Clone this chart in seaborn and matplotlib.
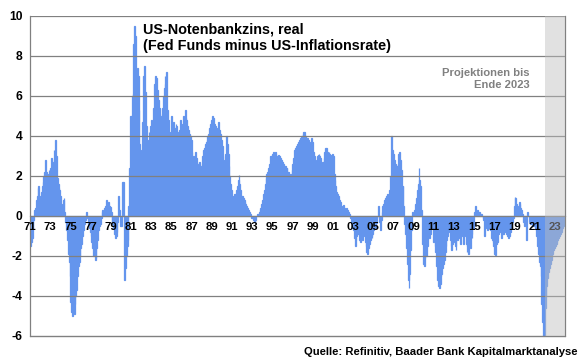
import matplotlib
matplotlib.use("Agg")
import matplotlib.pyplot as plt
import numpy as np
import pandas as pd
import seaborn as sns

# Monthly real Fed Funds rate (Fed Funds minus US inflation), %, Jan 1971 .. Dec 2021
real_1971_1980 = [
    -1.5, -1.3, -1.1, -0.6, -0.2, 0.3, 0.4, 0.8, 1.0, 1.4, 1.5, 0.9,
    1.0, 1.2, 1.5, 1.7, 2.0, 2.2, 2.8, 2.2, 1.9, 2.1, 2.3, 2.0,
    2.4, 2.9, 2.3, 2.7, 3.3, 2.8, 3.8, 3.0, 1.9, 1.6, 1.4, 1.3,
    1.0, 0.6, 0.3, 0.8, 0.9, 0.2, -0.3, -0.7, -1.2, -1.9, -2.3, -3.0,
    -4.3, -4.8, -5.0, -4.6, -4.9, -4.4, -4.0, -3.7, -3.0, -2.5, -2.3, -2.0,
    -1.6, -1.4, -1.0, -0.7, -0.4, -0.2, 0.0, 0.2, -0.1, -0.4, -0.6, -0.8,
    -1.0, -1.3, -1.6, -2.0, -1.9, -2.2, -2.1, -1.6, -1.2, -0.7, -0.5, -0.4,
    -0.1, 0.2, 0.3, 0.1, 0.4, 0.5, 0.8, 0.6, 0.3, 0.7, 0.5, 0.45,
    0.2, -0.3, -0.4, -0.6, -0.9, -1.1, -1.0, -0.8, -0.3, 1.0, 0.3, -0.5,
    -0.5, 1.7, 0.6, 1.7, -3.2, -2.6, -2.0, -1.5, -1.2, 0.5, 2.4, 5.0,
]
real_1981_1990 = [
    5.0, 6.0, 6.1, 8.6, 9.5, 9.0, 7.2, 7.4, 7.0, 5.3, 3.6, 3.1,
    3.3, 4.7, 7.0, 6.0, 7.5, 6.2, 4.5, 3.8, 3.6, 4.2, 3.8, 4.5,
    4.8, 4.5, 5.4, 5.0, 6.6, 7.0, 6.9, 6.3, 5.8, 5.4, 5.1, 4.8,
    5.0, 5.4, 6.0, 6.4, 7.0, 6.6, 7.2, 5.3, 4.8, 4.0, 3.6, 4.2,
    5.0, 4.3, 4.7, 4.4, 4.0, 4.6, 4.5, 4.2, 4.0, 4.3, 4.8, 4.6,
    4.0, 4.6, 5.0, 4.8, 5.3, 4.9, 4.8, 4.5, 4.3, 4.1, 4.0, 3.8,
    3.2, 3.0, 2.8, 3.0, 3.2, 2.9, 2.7, 2.6, 2.5, 2.7, 2.5, 2.4,
    2.6, 3.0, 3.3, 3.4, 3.6, 3.7, 3.8, 4.0, 4.1, 4.4, 4.6, 4.8,
    5.0, 4.8, 4.9, 4.6, 4.5, 4.4, 4.3, 4.1, 4.7, 4.3, 4.1, 3.8,
    3.5, 3.0, 2.8, 2.7, 3.1, 4.0, 3.6, 3.1, 2.5, 2.0, 1.6, 1.3,
]
real_1991_2000 = [
    1.0, 0.9, 1.0, 1.1, 1.1, 1.3, 1.5, 1.8, 2.05, 1.6, 1.3, 1.0,
    1.0, 0.9, 0.8, 0.7, 0.6, 0.5, 0.4, 0.3, 0.2, 0.0, 0.1, -0.1,
    -0.1, -0.2, -0.3, -0.3, -0.2, 0.0, 0.1, 0.1, 0.2, 0.3, 0.4, 0.6,
    0.8, 1.1, 1.3, 1.6, 1.9, 2.1, 2.2, 2.4, 2.6, 3.0, 2.9, 3.0,
    3.1, 3.2, 3.1, 3.2, 3.1, 3.0, 2.9, 3.05, 3.0, 2.9, 2.8, 2.7,
    2.7, 2.6, 2.5, 2.5, 2.4, 2.4, 2.2, 2.2, 2.1, 2.0, 2.1, 2.3,
    2.6, 2.9, 3.3, 3.4, 3.5, 3.6, 3.6, 3.7, 3.8, 3.9, 4.0, 4.0,
    4.1, 4.2, 4.2, 4.0, 3.9, 3.9, 3.8, 3.8, 3.7, 3.6, 3.9, 3.7,
    3.1, 3.2, 3.0, 2.5, 2.8, 3.0, 3.05, 3.1, 3.0, 2.9, 2.6, 2.7,
    2.7, 2.9, 3.2, 3.4, 3.4, 3.2, 3.0, 3.2, 3.1, 3.0, 3.05, 3.1,
]
real_2001_2010 = [
    3.0, 2.1, 1.8, 1.5, 1.2, 1.1, 1.0, 0.8, 0.6, 0.7, 0.5, 0.3,
    0.55, 0.4, 0.3, 0.2, 0.4, 0.3, 0.2, 0.1, 0.0, -0.1, -0.35, -0.6,
    -0.7, -1.1, -1.5, -1.2, -1.0, -0.9, -0.9, -1.2, -1.3, -1.0, -1.0, -1.2,
    -0.9, -1.0, -1.3, -1.5, -1.8, -1.9, -1.6, -1.4, -1.2, -1.0, -1.1, -0.9,
    -0.7, -0.5, -0.6, -0.35, -0.1, 0.0, 0.5, -0.3, -0.7, -0.2, 0.2, 0.5,
    0.6, 0.8, 0.9, 1.0, 1.1, 1.1, 1.0, 1.3, 2.0, 4.0, 3.3, 2.8,
    3.1, 2.8, 2.6, 2.5, 2.5, 2.6, 3.1, 3.2, 2.8, 2.3, 1.5, 1.5,
    0.5, -0.4, -0.9, -1.6, -2.4, -3.2, -3.6, -2.9, -1.7, -0.7, 0.2, 0.1,
    0.0, 0.3, 0.6, 0.9, 1.3, 1.6, 2.4, 1.8, 1.5, 0.3, -1.4, -2.4,
    -2.5, -2.1, -1.7, -2.0, -1.5, -1.0, -1.1, -0.7, -0.9, -0.6, -0.5, -1.3,
]
real_2011_2021 = [
    -1.0, -1.5, -1.8, -2.5, -3.2, -3.5, -3.6, -3.4, -3.0, -2.9, -2.6, -2.4,
    -2.2, -1.8, -1.5, -1.2, -1.0, -0.8, -0.7, -1.2, -1.5, -1.7, -1.4, -1.2,
    -1.3, -1.5, -1.7, -1.0, -1.2, -1.1, -0.9, -1.4, -0.5, -0.8, -1.0, -1.4,
    -0.9, -1.0, -1.4, -1.8, -1.5, -1.9, -1.2, -1.6, -0.9, -1.1, -0.4, -0.6,
    0.2, 0.5, 0.1, 0.3, 0.0, 0.2, 0.2, 0.1, 0.1, 0.0, -0.1, -0.2,
    -1.0, -0.6, -0.5, -0.7, -0.6, -0.6, -0.4, -0.7, -1.1, -1.2, -1.3, -1.5,
    -1.9, -1.95, -1.4, -1.3, -0.9, -0.6, -0.7, -0.8, -1.1, -0.9, -0.9, -0.8,
    -0.7, -0.8, -0.9, -1.0, -1.1, -1.0, -1.0, -0.8, -0.4, -0.3, -0.1, 0.5,
    0.95, 0.9, 0.6, 0.5, 0.4, 0.7, 0.6, 0.4, 0.3, 0.1, -0.3, -0.5,
    -0.3, -0.4, -1.2, 0.2, 0.0, -0.3, -0.4, -0.35, -0.4, -0.45, -0.5, -0.5,
    -0.6, -0.7, -1.0, -1.5, -1.9, -2.3, -2.5, -3.0, -4.4, -5.3, -6.5, -6.8,
]
# Projections Jan 2022 .. Dec 2023
proj_2022_2023 = [
    -4.6, -4.0, -3.5, -3.1, -2.8, -2.6, -2.4, -2.2, -2.0, -1.9, -1.7, -1.6,
    -1.5, -1.4, -1.3, -1.2, -1.1, -1.0, -0.9, -0.8, -0.7, -0.6, -0.5, -0.4,
]
start_year = 1971
proj_start = 2022
x_ticks = list(range(1971, 2024, 2))
x_labels = [f"{y % 100:02d}" for y in x_ticks]
y_ticks = [-6, -4, -2, 0, 2, 4, 6, 8, 10]

title_text = "US-Notenbankzins, real"
subtitle_text = "(Fed Funds minus US-Inflationsrate)"
proj_note = ["Projektionen bis", "Ende 2023"]
source_text = "Quelle: Refinitiv, Baader Bank Kapitalmarktanalyse"

hist = real_1971_1980 + real_1981_1990 + real_1991_2000 + real_2001_2010 + real_2011_2021
x_hist = [start_year + (i + 0.5) / 12 for i in range(len(hist))]
x_proj = [proj_start + (i + 0.5) / 12 for i in range(len(proj_2022_2023))]
df = pd.DataFrame({
    "x": x_hist + x_proj,
    "v": hist + proj_2022_2023,
})

sns.set_theme(style="white")
plt.rcParams["font.family"] = ["Liberation Sans", "DejaVu Sans"]

BLUE = "#6495ED"
GRID = "#808080"

fig = plt.figure(figsize=(5.8, 3.59), dpi=100)
ax = fig.add_axes([30 / 580, 23 / 359, 535 / 580, 320 / 359])

sns.barplot(data=df, x="x", y="v", native_scale=True, width=1.0,
            color=BLUE, saturation=1, errorbar=None,
            linewidth=0.9, edgecolor=BLUE, ax=ax, zorder=2)

ax.set_xlim(1971, 2024)
ax.set_ylim(-6, 10)

# projection band (semi-transparent grey overlay)
ax.axvspan(2022, 2024, color="#bdbdbd", alpha=0.45, lw=0, zorder=6)

for y in [-4, -2, 2, 4, 6, 8, 10]:
    ax.axhline(y, color=GRID, lw=0.9, zorder=3)
ax.axhline(-6, color=GRID, lw=1.0, zorder=3, clip_on=False)

for s in ["top", "left", "right"]:
    ax.spines[s].set_color(GRID)
    ax.spines[s].set_linewidth(0.9)
ax.spines["top"].set_visible(False)
ax.spines["bottom"].set_position(("data", 0))
ax.spines["bottom"].set_color(GRID)
ax.spines["bottom"].set_linewidth(0.9)
ax.spines["bottom"].set_zorder(4)

ax.set_xticks(x_ticks)
ax.set_xticklabels(x_labels)
ax.set_yticks(y_ticks)
ax.set_yticklabels([str(v) for v in y_ticks])
ax.tick_params(axis="x", direction="out", length=2.5, width=0.8, color="#555555",
               pad=2, labelsize=8.2, labelcolor="black")
ax.tick_params(axis="y", direction="out", length=2.5, width=0.8, color=GRID,
               pad=3, labelsize=8.7, labelcolor="black")
for lab in ax.get_xticklabels() + ax.get_yticklabels():
    lab.set_fontweight("bold")
ax.xaxis.set_zorder(5)
ax.set_xlabel("")
ax.set_ylabel("")
ax.grid(False)

H = 359
fig.text(143 / 580, 1 - 33 / H, title_text, fontsize=10.4, fontweight="bold",
         color="black", ha="left", va="baseline")
fig.text(143 / 580, 1 - 50 / H, subtitle_text, fontsize=10.4, fontweight="bold",
         color="black", ha="left", va="baseline")
fig.text(530 / 580, 1 - 76.5 / H, proj_note[0], fontsize=8.1, fontweight="bold",
         color="#808080", ha="right", va="baseline")
fig.text(530 / 580, 1 - 88.5 / H, proj_note[1], fontsize=8.1, fontweight="bold",
         color="#808080", ha="right", va="baseline")
fig.text(577 / 580, 1 - 355 / H, source_text, fontsize=8.1, fontweight="bold",
         color="black", ha="right", va="baseline")

fig.savefig("out.png", dpi=100, facecolor="white")
